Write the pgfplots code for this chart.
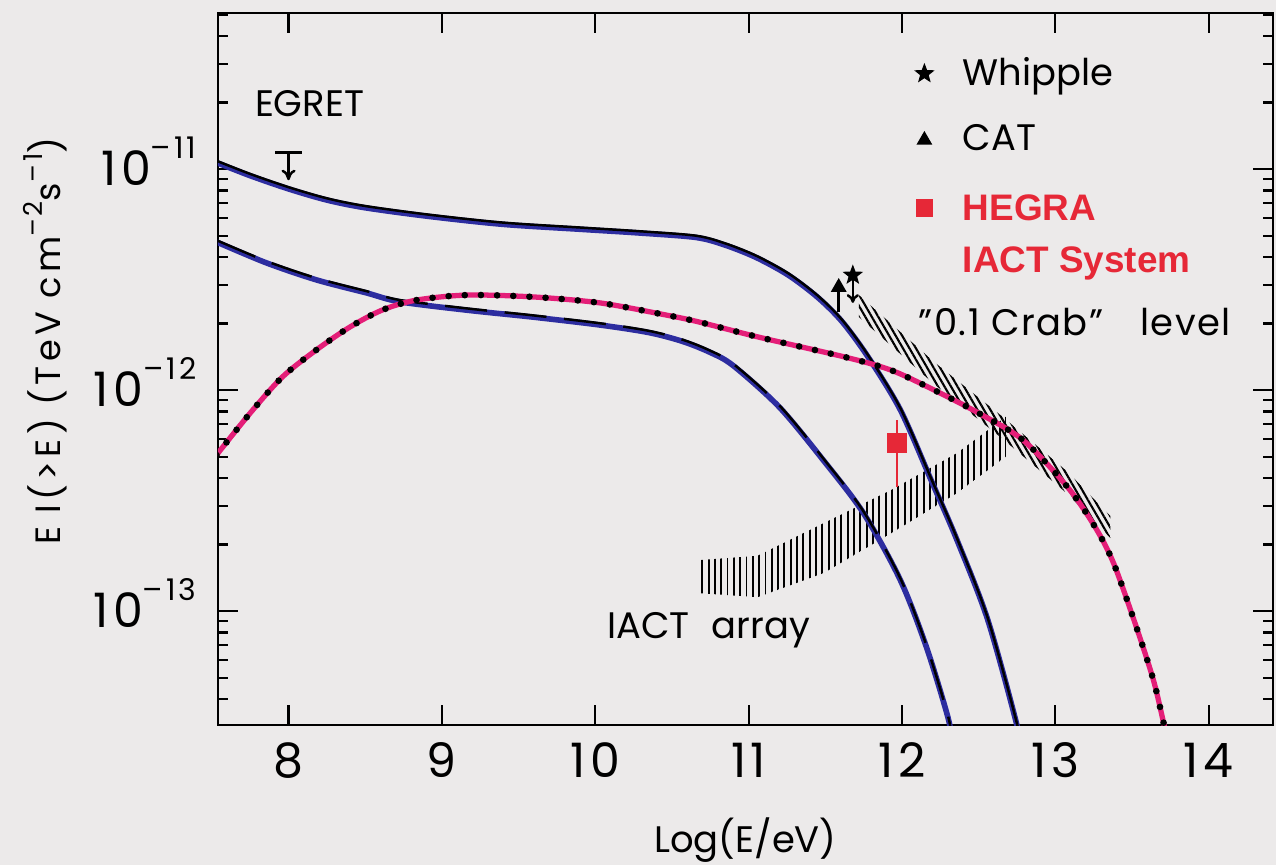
\documentclass[border=0pt]{standalone}
\usepackage{fontspec}
\setmainfont{Poppins}
\newfontfamily\helv{Liberation Sans}
\usepackage{pgfplots}
\usepackage{pgfplotstable}
\pgfplotsset{compat=1.18}
\usetikzlibrary{patterns.meta,arrows.meta}
\definecolor{bgc}{RGB}{236,234,234}
\definecolor{navy}{RGB}{45,45,160}
\definecolor{pinkc}{RGB}{228,30,120}
\definecolor{hred}{RGB}{230,40,55}
\newcommand\spt[1]{\raisebox{7.6pt}{\fontsize{8.5}{9}\selectfont #1}}
\newcommand\spl[1]{\raisebox{0.95ex}{\fontsize{7.4}{8}\selectfont #1}}
\pgfdeclareplotmark{fstar}{%
  \pgfpathmoveto{\pgfpointpolar{90}{\pgfplotmarksize}}%
  \pgfpathlineto{\pgfpointpolar{126}{0.42\pgfplotmarksize}}%
  \pgfpathlineto{\pgfpointpolar{162}{\pgfplotmarksize}}%
  \pgfpathlineto{\pgfpointpolar{198}{0.42\pgfplotmarksize}}%
  \pgfpathlineto{\pgfpointpolar{234}{\pgfplotmarksize}}%
  \pgfpathlineto{\pgfpointpolar{270}{0.42\pgfplotmarksize}}%
  \pgfpathlineto{\pgfpointpolar{306}{\pgfplotmarksize}}%
  \pgfpathlineto{\pgfpointpolar{342}{0.42\pgfplotmarksize}}%
  \pgfpathlineto{\pgfpointpolar{18}{\pgfplotmarksize}}%
  \pgfpathlineto{\pgfpointpolar{54}{0.42\pgfplotmarksize}}%
  \pgfpathclose
  \pgfusepathqfillstroke
}

\pgfplotstableread{
x y
7.54 1.064e-11
7.75 9.33e-12
8.0 8.13e-12
8.25 7.24e-12
8.5 6.68e-12
8.92 6.10e-12
9.4 5.62e-12
9.92 5.33e-12
10.3 5.13e-12
10.66 4.90e-12
10.85 4.52e-12
11.05 3.98e-12
11.26 3.31e-12
11.45 2.63e-12
11.61 2.04e-12
11.78 1.41e-12
11.99 8.13e-13
12.19 3.92e-13
12.36 2.09e-13
12.56 9.12e-14
12.75 3.05e-14
12.78 2.24e-14
}\tabUpperCurve

\pgfplotstableread{
x y
7.53 4.68e-12
7.857 3.76e-12
8.183 3.15e-12
8.51 2.75e-12
8.724 2.51e-12
9.16 2.30e-12
9.59 2.14e-12
10.03 1.97e-12
10.35 1.82e-12
10.57 1.66e-12
10.75 1.48e-12
10.9 1.29e-12
11.20 8.38e-13
11.49 4.79e-13
11.75 2.77e-13
11.99 1.38e-13
12.16 6.87e-14
12.30 3.31e-14
12.33 2.51e-14
}\tabLowerCurve

\pgfplotstableread{
x y
7.53 5.08e-13
7.75 7.87e-13
7.96 1.146e-12
8.18 1.517e-12
8.40 1.928e-12
8.61 2.30e-12
8.83 2.55e-12
9.16 2.69e-12
9.59 2.64e-12
10.03 2.48e-12
10.47 2.18e-12
10.68 2.03e-12
11.06 1.74e-12
11.63 1.41e-12
11.93 1.23e-12
12.21 1.0e-12
12.50 7.87e-13
12.79 5.94e-13
13.08 3.64e-13
13.26 2.40e-13
13.38 1.65e-13
13.52 8.83e-14
13.64 4.88e-14
13.71 3.05e-14
13.74 2.51e-14
}\tabPinkCurve

% "0.1 Crab" band: upper edge left to right, then lower edge right to left
\pgfplotstableread{
x y
11.72 2.69e-12
12.21 1.34e-12
12.65 7.64e-13
13.08 4.27e-13
13.36 2.69e-13
13.36 2.14e-13
13.08 3.39e-13
12.65 6.07e-13
12.21 1.064e-12
11.72 2.14e-12
11.72 2.69e-12
}\tabCrabBand

% IACT array band
\pgfplotstableread{
x y
10.68 1.70e-13
11.06 1.78e-13
11.49 2.50e-13
11.93 3.53e-13
12.36 5.19e-13
12.68 7.59e-13
12.68 5.01e-13
12.36 3.42e-13
11.93 2.25e-13
11.49 1.486e-13
11.06 1.156e-13
10.68 1.205e-13
10.68 1.70e-13
}\tabIactBand

\begin{document}
\begin{tikzpicture}
\fill[bgc] (-2.18cm,-1.40cm) rectangle (10.58cm,7.25cm);
\path[use as bounding box] (-2.18cm,-1.40cm) rectangle (10.58cm,7.25cm);
\begin{axis}[
  scale only axis, width=10.55cm, height=7.12cm,
  anchor=south west, at={(0,0)},
  xmin=7.54, xmax=14.42,
  ymode=log, ymin=3.05e-14, ymax=5.08e-11,
  xtick={8,9,10,11,12,13,14}, xticklabels={8,9,10,11,12,13,14},
  ytick={1e-13,1e-12,1e-11},
  yticklabels={10\spt{–13},10\spt{–12},10\spt{–11}},
  minor ytick={4e-14,5e-14,6e-14,7e-14,8e-14,9e-14,2e-13,3e-13,4e-13,5e-13,6e-13,7e-13,8e-13,9e-13,2e-12,3e-12,4e-12,5e-12,6e-12,7e-12,8e-12,9e-12,2e-11,3e-11,4e-11,5e-11},
  tick align=inside, major tick length=0.2cm, minor tick length=0.1cm,
  axis line style={line width=0.8pt},
  tick style={black, line width=0.6pt},
  font=\fontsize{10.5}{12.6}\selectfont,
  ticklabel style={font=\fontsize{13.5}{15}\selectfont\addfontfeatures{LetterSpace=10}},
  xticklabel style={anchor=base, inner sep=0pt, yshift=-0.52cm},
  yticklabel style={anchor=base east, inner sep=0pt, xshift=-0.21cm, yshift=-4.7pt},
  xlabel={Log(E/eV)},
  every axis x label/.style={at={(axis description cs:0.5,0)}, anchor=base, yshift=-1.27cm},
  ylabel={\addfontfeatures{LetterSpace=12}E I(>E) (TeV cm\spl{–2}s\spl{–1})},
  every axis y label/.style={at={(axis description cs:-0.164,0.539)}, rotate=90, anchor=center, font=\fontsize{10}{12}\selectfont},
  legend style={at={(axis description cs:0.651,0.959)}, anchor=north west,
    draw=none, fill=none, row sep=0.2cm, column sep=0.23cm,
    font=\fontsize{10.5}{12.6}\selectfont},
  legend cell align=left,
]
% bands
\addplot[draw=none, pattern={Lines[angle=90,distance=1.8pt,line width=0.55pt]}, forget plot] table {\tabIactBand};
\addplot[draw=none, pattern={Lines[angle=-60,distance=1.6pt,line width=0.6pt]}, forget plot] table {\tabCrabBand};
% curves
\addplot[navy, line width=1.6pt, smooth, forget plot] table {\tabUpperCurve};
\addplot[black, line width=0.7pt, yshift=0.5pt, smooth, forget plot] table {\tabUpperCurve};
\addplot[navy, line width=1.6pt, smooth, forget plot] table {\tabLowerCurve};
\addplot[black, line width=0.7pt, yshift=0.5pt, smooth, dash pattern=on 12pt off 5pt, forget plot] table {\tabLowerCurve};
\addplot[pinkc, line width=1.5pt, smooth, forget plot] table {\tabPinkCurve};
\addplot[black, line width=1.9pt, smooth, line cap=round, dash pattern=on 0pt off 4.6pt, forget plot] table {\tabPinkCurve};
% EGRET upper limit
\addplot[black, line width=0.8pt, forget plot] coordinates {(7.915,1.19e-11) (8.085,1.19e-11)};
\addplot[black, line width=0.7pt, -{To[length=3pt,width=4pt]}, forget plot] coordinates {(8.0,1.19e-11) (8.0,8.9e-12)};
% CAT
\addplot[black, line width=0.7pt, forget plot] coordinates {(11.588,2.92e-12) (11.588,2.25e-12)};
\addplot[black, only marks, mark=triangle*, mark size=2.2pt, forget plot] coordinates {(11.588,2.92e-12)};
% Whipple
\addplot[black, line width=0.7pt, -{To[length=2.5pt,width=3.5pt]}, forget plot] coordinates {(11.68,3.31e-12) (11.68,2.48e-12)};
\addplot[black, only marks, mark=fstar, mark size=2.5pt, forget plot] coordinates {(11.68,3.31e-12)};
% HEGRA
\addplot[hred, line width=0.6pt, forget plot] coordinates {(11.97,3.64e-13) (11.97,7.3e-13)};
\addplot[hred, only marks, mark=square*, mark size=2.6pt, forget plot] coordinates {(11.97,5.75e-13)};
% annotations
\node at (axis cs:8.137,1.97e-11) {EGRET};
\node at (axis cs:13.127,2.03e-12) {\addfontfeatures{LetterSpace=4}"0.1 Crab"\hspace{1em}level};
\node at (axis cs:10.74,8.2e-14) {IACT\hspace{0.6em}array};
% legend
\addlegendimage{only marks, mark=fstar, mark size=2.5pt, black}
\addlegendentry{Whipple}
\addlegendimage{only marks, mark=triangle*, mark size=2.2pt, black}
\addlegendentry{CAT}
\addlegendimage{only marks, mark=square*, mark size=2.3pt, hred}
\addlegendentry{\helv\bfseries\color{hred}\begin{tabular}[t]{@{}l@{}}HEGRA\\[2.2pt]IACT System\end{tabular}}
\end{axis}
\end{tikzpicture}
\end{document}
